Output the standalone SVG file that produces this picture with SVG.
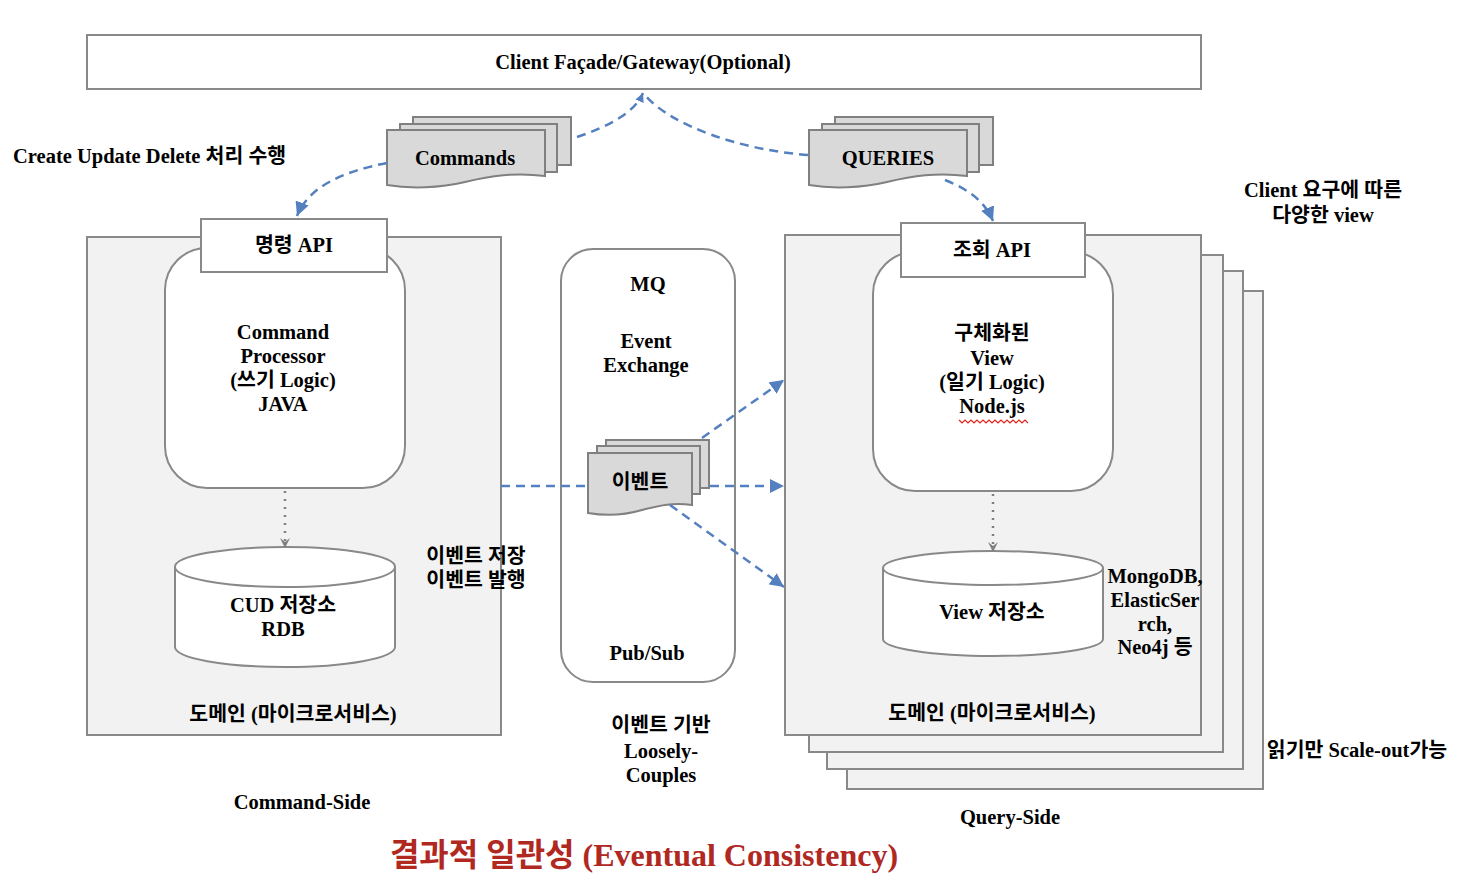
<svg xmlns="http://www.w3.org/2000/svg" width="1468" height="892" viewBox="0 0 1468 892">
<defs>
<style>
text{font-family:'Liberation Serif','Noto Sans CJK KR',serif;font-weight:bold;font-size:20.5px;fill:#000;text-anchor:middle}
.l{text-anchor:start}
.box{fill:#fff;stroke:#898989;stroke-width:2}
.dom{fill:#f2f2f2;stroke:#898989;stroke-width:2}
.doc{fill:#d9d9d9;stroke:#808080;stroke-width:2}
.dash{fill:none;stroke:#5580bf;stroke-width:2.5;stroke-dasharray:9 6}
.dot{fill:none;stroke:#7f7f7f;stroke-width:2.5;stroke-dasharray:2 6}
</style>
<marker id="bh" viewBox="0 0 10 10" refX="10" refY="5" markerWidth="14" markerHeight="14" orient="auto" markerUnits="userSpaceOnUse">
<path d="M0,0 L10,5 L0,10 z" fill="#5580bf"/>
</marker>
<marker id="sh" viewBox="0 0 10 10" refX="10" refY="5" markerWidth="9" markerHeight="9" orient="auto" markerUnits="userSpaceOnUse">
<path d="M0,0 L10,5 L0,10 z" fill="#5580bf"/>
</marker>
<marker id="gh" viewBox="0 0 10 10" refX="9" refY="5" markerWidth="10" markerHeight="10" orient="auto" markerUnits="userSpaceOnUse">
<path d="M0,0 L10,5 L0,10 L4,5 z" fill="#7f7f7f"/>
</marker>
</defs>
<rect width="1468" height="892" fill="#fff"/>

<g id="gateway">
<rect class="box" x="87" y="35" width="1114" height="54"/>
<text x="643" y="69">Client Façade/Gateway(Optional)</text>
</g>

<g id="command-domain">
<rect class="dom" x="87" y="237" width="414" height="498"/>
<text x="293" y="721">도메인 (마이크로서비스)</text>
</g>

<g id="query-domain">
<rect class="dom" x="847" y="291" width="416" height="498"/>
<rect class="dom" x="827" y="271" width="416" height="498"/>
<rect class="dom" x="809" y="255" width="414" height="497"/>
<rect class="dom" x="785" y="235" width="416" height="500"/>
<text x="992" y="720">도메인 (마이크로서비스)</text>
</g>

<g id="command-processor">
<rect class="box" x="165" y="248" width="240" height="240" rx="42"/>
<text x="283" y="339">Command</text>
<text x="283" y="363">Processor</text>
<text x="283" y="387">(쓰기 Logic)</text>
<text x="283" y="411">JAVA</text>
</g>

<g id="command-api">
<rect class="box" x="201" y="219" width="186" height="53"/>
<text x="294" y="252">명령 API</text>
</g>

<g id="cud-store">
<path class="box" d="M175,567 V647 A110,20 0 0 0 395,647 V567 A110,20 0 0 0 175,567 A110,20 0 0 0 395,567"/>
<text x="283" y="612">CUD 저장소</text>
<text x="283" y="636">RDB</text>
</g>

<g id="view-logic">
<rect class="box" x="873" y="252" width="240" height="239" rx="42"/>
<text x="992" y="340">구체화된</text>
<text x="992" y="365">View</text>
<text x="992" y="389">(일기 Logic)</text>
<text x="992" y="413">Node.js</text>
<path d="M959,420 l3,3 l3,-3 l3,3 l3,-3 l3,3 l3,-3 l3,3 l3,-3 l3,3 l3,-3 l3,3 l3,-3 l3,3 l3,-3 l3,3 l3,-3 l3,3 l3,-3 l3,3 l3,-3 l3,3 l3,-3 l3,3" fill="none" stroke="#e0241b" stroke-width="1.2"/>
</g>

<g id="query-api">
<rect class="box" x="901" y="223" width="184" height="54"/>
<text x="992" y="257">조회 API</text>
</g>

<g id="view-store">
<path class="box" d="M883,568 V639 A110,17 0 0 0 1103,639 V568 A110,17 0 0 0 883,568 A110,17 0 0 0 1103,568"/>
<text x="992" y="619">View 저장소</text>
</g>

<g id="mq">
<rect class="box" x="561" y="249" width="174" height="433" rx="32"/>
<text x="648" y="291">MQ</text>
<text x="646" y="348">Event</text>
<text x="646" y="372">Exchange</text>
<text x="647" y="660">Pub/Sub</text>
</g>

<g id="commands">
<rect class="doc" x="413" y="117" width="158" height="48"/>
<rect class="doc" x="400" y="124" width="157" height="48"/>
<path class="doc" d="M387,130 H545 V176 C515,172 490,176 465,182 C440,188 410,189 387,185 Z"/>
<text x="465" y="165">Commands</text>
</g>

<g id="queries">
<rect class="doc" x="835" y="117" width="158" height="48"/>
<rect class="doc" x="822" y="124" width="157" height="48"/>
<path class="doc" d="M809,130 H967 V176 C937,172 912,176 887,182 C862,188 832,189 809,185 Z"/>
<text x="888" y="165">QUERIES</text>
</g>

<g id="event">
<rect class="doc" x="606" y="440" width="103" height="48"/>
<rect class="doc" x="597" y="446" width="103" height="48"/>
<path class="doc" d="M588,453 H692 V505 C672,502 658,506 642,510 C625,515 605,516 588,513 Z"/>
<text x="640" y="489">이벤트</text>
</g>

<g id="connectors">
<path class="dash" d="M577,137 C610,126 635,112 643,93" marker-end="url(#sh)"/>
<path class="dash" d="M808,155 C740,150 670,125 645,95"/>
<path class="dash" d="M387,163 C340,172 308,188 297,216" marker-end="url(#bh)"/>
<path class="dash" d="M945,180 C970,190 985,202 993,221" marker-end="url(#bh)"/>
<path class="dash" d="M501,486 H588"/>
<path class="dash" d="M710,486 H784" marker-end="url(#bh)"/>
<path class="dash" d="M702,438 L784,380" marker-end="url(#bh)"/>
<path class="dash" d="M670,505 L784,587" marker-end="url(#bh)"/>
<path class="dot" d="M285,491 V547" marker-end="url(#gh)"/>
<path class="dot" d="M993,494 V551" marker-end="url(#gh)"/>
</g>

<g id="labels">
<text class="l" x="13" y="163">Create Update Delete 처리 수행</text>
<text x="1323" y="197">Client 요구에 따른</text>
<text x="1323" y="222">다양한 view</text>
<text x="476" y="563">이벤트 저장</text>
<text x="476" y="587">이벤트 발행</text>
<text x="1155" y="583">MongoDB,</text>
<text x="1155" y="607">ElasticSer</text>
<text x="1155" y="631">rch,</text>
<text x="1155" y="654">Neo4j 등</text>
<text x="1357" y="757">읽기만 Scale-out가능</text>
<text x="661" y="732">이벤트 기반</text>
<text x="661" y="758">Loosely-</text>
<text x="661" y="782">Couples</text>
<text x="302" y="809">Command-Side</text>
<text x="1010" y="824">Query-Side</text>
<text x="644" y="866" style="font-size:32px;fill:#b0281f">결과적 일관성 (Eventual Consistency)</text>
</g>
</svg>
